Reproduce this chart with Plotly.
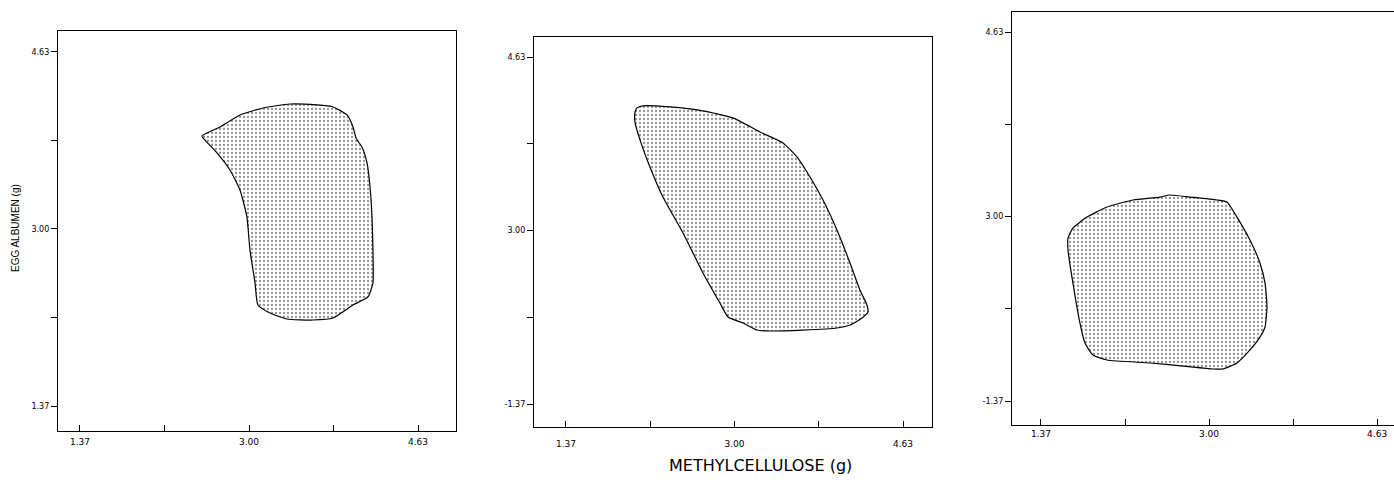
import plotly.graph_objects as go

# ---- data (axis units) ----
tick_vals = [1.37, 2.185, 3.00, 3.815, 4.63]
x_tick_text = ["1.37", "", "3.00", "", "4.63"]
y_tick_text_a = ["1.37", "", "3.00", "", "4.63"]
y_tick_text_bc = ["-1.37", "", "3.00", "", "4.63"]

region_a_x = [2.546, 2.720, 2.913, 3.135, 3.395, 3.655, 3.810, 3.945, 4.003, 4.032, 4.089, 4.138,
              4.167, 4.186, 4.195, 4.195, 4.147, 4.003, 3.810, 3.617, 3.366, 3.202, 3.086, 3.058,
              3.009, 2.980, 2.913, 2.816, 2.691, 2.575, 2.546]
region_a_y = [3.856, 3.939, 4.050, 4.114, 4.151, 4.142, 4.123, 4.050, 3.939, 3.838, 3.755, 3.608,
              3.387, 3.110, 2.806, 2.503, 2.374, 2.300, 2.180, 2.162, 2.171, 2.226, 2.300, 2.503,
              2.806, 3.110, 3.359, 3.543, 3.700, 3.819, 3.856]

region_b_x = [2.057, 2.115, 2.376, 2.695, 2.985, 3.246, 3.469, 3.604, 3.730, 3.856, 3.991, 4.117,
              4.213, 4.281, 4.291, 4.233, 4.117, 3.991, 3.662, 3.343, 3.217, 3.082, 2.937, 2.859,
              2.695, 2.502, 2.308, 2.182, 2.086, 2.037, 2.037, 2.057]
region_b_y = [4.152, 4.171, 4.161, 4.124, 4.058, 3.926, 3.823, 3.691, 3.503, 3.287, 3.005, 2.695,
              2.441, 2.300, 2.235, 2.178, 2.112, 2.084, 2.065, 2.056, 2.065, 2.131, 2.188, 2.319,
              2.601, 2.977, 3.315, 3.597, 3.851, 4.020, 4.105, 4.152]

region_c_x = [1.632, 1.680, 1.816, 2.010, 2.262, 2.524, 2.621, 2.815, 3.077, 3.174, 3.271, 3.397,
              3.494, 3.543, 3.562, 3.543, 3.494, 3.397, 3.271, 3.135, 3.038, 2.747, 2.427, 2.010,
              1.874, 1.797, 1.748, 1.680, 1.632, 1.632]
region_c_y = [2.810, 2.898, 2.995, 3.084, 3.146, 3.172, 3.190, 3.172, 3.146, 3.128, 2.995, 2.792,
              2.589, 2.412, 2.200, 2.024, 1.935, 1.821, 1.706, 1.653, 1.653, 1.679, 1.706, 1.732,
              1.776, 1.882, 2.059, 2.412, 2.704, 2.810]

x_title = "METHYLCELLULOSE (g)"
y_title = "EGG ALBUMEN (g)"

# ---- figure ----
W, H = 1394, 483
fig = go.Figure()

pattern = dict(shape=".", size=4, solidity=0.25, fgcolor="#222222", bgcolor="white")
line = dict(color="black", width=1.2)

for xs, ys, ax in [(region_a_x, region_a_y, ""), (region_b_x, region_b_y, "2"),
                   (region_c_x, region_c_y, "3")]:
    fig.add_trace(go.Scatter(x=xs, y=ys, mode="lines", fill="toself", fillpattern=pattern,
                             fillcolor="white", line=line, line_shape="spline",
                             line_smoothing=0.5, xaxis="x" + ax, yaxis="y" + ax,
                             showlegend=False, hoverinfo="skip"))

def px_dom(a, b):
    return [a / W, b / W]

def py_dom(top, bottom):
    return [1 - bottom / H, 1 - top / H]

font_x = dict(family="DejaVu Sans", size=9, color="black")
font_y = dict(family="DejaVu Sans", size=8, color="black")

def xaxis(dom, rng, anchor, standoff):
    return dict(domain=dom, range=rng, anchor=anchor, showgrid=False, zeroline=False,
                showline=True, linecolor="black", linewidth=1.2, mirror=True,
                ticks="inside", ticklen=6, tickcolor="black", tickwidth=1,
                tickvals=tick_vals, ticktext=x_tick_text, tickfont=font_x,
                ticklabelstandoff=standoff, fixedrange=True)

def yaxis(dom, rng, anchor, labels, mirror=True):
    return dict(domain=dom, range=rng, anchor=anchor, showgrid=False, zeroline=False,
                showline=True, linecolor="black", linewidth=1.2, mirror=mirror,
                ticks="outside", ticklen=6, tickcolor="black", tickwidth=1,
                tickvals=tick_vals, ticktext=labels, tickfont=font_y, fixedrange=True)

fig.update_layout(
    width=W, height=H,
    margin=dict(l=0, r=0, t=0, b=0),
    paper_bgcolor="white", plot_bgcolor="white",
    xaxis=xaxis(px_dom(58, 456), [1.158, 4.996], "y", 2),
    yaxis=yaxis(py_dom(31, 431), [1.140, 4.823], "x", y_tick_text_a),
    xaxis2=xaxis(px_dom(534, 932), [1.061, 4.910], "y2", 8),
    yaxis2=yaxis(py_dom(37, 427), [1.154, 4.818], "x2", y_tick_text_bc),
    xaxis3=xaxis(px_dom(1012, 1394), [1.089, 4.794], "y3", 0),
    yaxis3=yaxis(py_dom(12, 425), [1.158, 4.807], "x3", y_tick_text_bc, mirror=False),
    annotations=[
        dict(text=x_title, xref="paper", yref="paper", x=760 / W, y=1 - 465 / H,
             showarrow=False, font=dict(family="DejaVu Sans", size=16, color="black"),
             xanchor="center", yanchor="middle"),
        dict(text=y_title, xref="paper", yref="paper", x=15 / W, y=1 - 228 / H,
             showarrow=False, textangle=-90,
             font=dict(family="Liberation Sans Narrow, Liberation Sans", size=10, color="black"),
             xanchor="center", yanchor="middle"),
    ],
)

fig.write_html("out.html")
